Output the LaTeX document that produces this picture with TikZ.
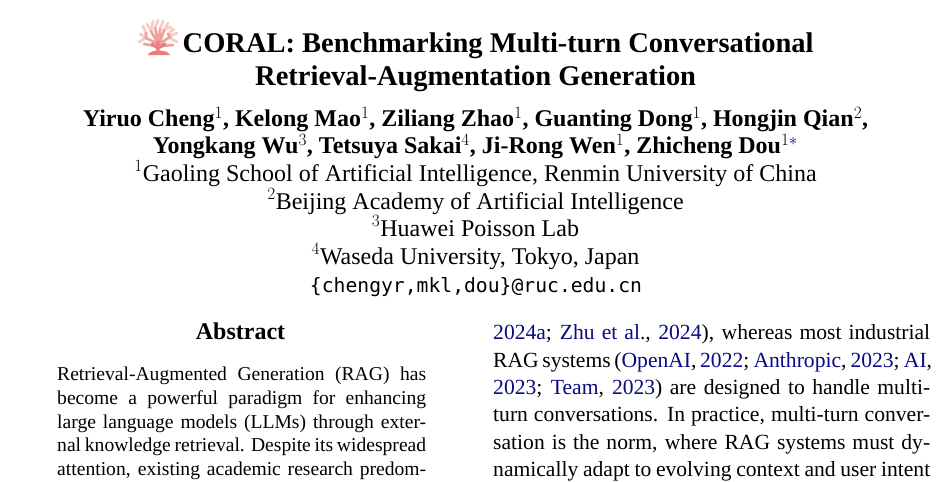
\documentclass[tikz,border=0pt]{standalone}
\usepackage{fontspec}
\setmainfont{Liberation Serif}
\newfontfamily\monof{DejaVu Sans Mono}
\definecolor{linkblue}{RGB}{10,10,130}
\definecolor{coralpale}{RGB}{247,205,200}
\definecolor{coralpink}{RGB}{240,160,155}
\definecolor{coraldark}{RGB}{236,125,125}
\newcommand{\lb}[1]{\textcolor{linkblue}{#1}}
\newcommand{\jl}[2]{\makebox[#1pt][s]{#2}}
\newcommand{\sps}[1]{\raisebox{-1.5pt}{$^{#1}$}}
\tikzset{
 titlef/.style={inner sep=0pt,font=\fontsize{28.5}{32}\selectfont\bfseries,anchor=base west},
 authf/.style={inner sep=0pt,font=\fontsize{24}{28}\selectfont\bfseries,anchor=base},
 afff/.style={inner sep=0pt,font=\fontsize{24}{28}\selectfont,anchor=base},
 mailf/.style={inner sep=0pt,font=\fontsize{19.7}{24}\selectfont\monof,anchor=base},
 headf/.style={inner sep=0pt,font=\fontsize{24}{28}\selectfont\bfseries,anchor=base},
 bodyf/.style={inner sep=0pt,font=\fontsize{21.6}{26}\selectfont,anchor=base west},
 absf/.style={inner sep=0pt,font=\fontsize{19.6}{24}\selectfont,anchor=base west},
 tipbranch/.style={draw=coralpale,line width=2.8pt,line cap=round,line join=round},
 midbranch/.style={draw=coralpink,line width=2.6pt,line cap=round,line join=round},
 trunk/.style={draw=coraldark,line width=3.4pt,line cap=round,line join=round}
}
\begin{document}
\begin{tikzpicture}[x=1pt,y=-1pt]
\useasboundingbox (0,0) rectangle (951,482);
\fill[white] (0,0) rectangle (951,482);
% coral
\draw[tipbranch] (146,38) -- (140,34) (146,38) -- (139,42) (146,33) -- (143,26)
  (151,31) -- (147,24) (151,31) -- (153,21) (155,28) -- (158,20)
  (160,29) -- (163,21) (164,30) -- (168,23) (164,30) -- (171,27)
  (170,36) -- (177,33) (170,38) -- (177,42) (168,34) -- (174,29);
\draw[midbranch] (158,44) -- (146,38) -- (146,33)
  (157,42) -- (151,31) (158,40) -- (155,28) (159,40) -- (160,29)
  (160,42) -- (164,30) (159,44) -- (170,37) -- (168,34)
  (155,46) -- (144,44) (162,46) -- (173,45);
\draw[trunk] (158,51) -- (158,42) (158,48) -- (152,44) (158,48) -- (165,44);
\fill[coraldark] (148,55) .. controls (149,49) and (168,49) .. (170,55) -- cycle;
\node[titlef] (t1) at (182.5,52) {CORAL: Benchmarking Multi-turn Conversational};
\node[titlef] (t2) at (255,85) {Retrieval-Augmentation Generation};
\node[authf] (a1) at (475.5,126) {Yiruo Cheng\sps{1}, Kelong Mao\sps{1}, Ziliang Zhao\sps{1}, Guanting Dong\sps{1}, Hongjin Qian\sps{2},};
\node[authf] (a2) at (475.5,153) {Yongkang Wu\sps{3}, Tetsuya Sakai\sps{4}, Ji-Rong Wen\sps{1}, Zhicheng Dou\sps{1\textcolor{linkblue}{*}}};
\node[afff] (f1) at (475.5,181) {$^{1}$Gaoling School of Artificial Intelligence, Renmin University of China};
\node[afff] (f2) at (475.5,209) {$^{2}$Beijing Academy of Artificial Intelligence};
\node[afff] (f3) at (475.5,236) {$^{3}$Huawei Poisson Lab};
\node[afff] (f4) at (475.5,264) {$^{4}$Waseda University, Tokyo, Japan};
\node[mailf] (m) at (476,292) {\{chengyr,mkl,dou\}@ruc.edu.cn};
\node[headf] (h) at (240.5,339) {Abstract};
\node[absf] (l1) at (57,380) {\jl{369}{Retrieval-Augmented Generation (RAG) has}};
\node[absf] (l2) at (57,404) {\jl{369}{become a powerful paradigm for enhancing}};
\node[absf] (l3) at (57,428) {\jl{369}{large language models (LLMs) through exter-}};
\node[absf] (l4) at (57,451) {\jl{369}{nal knowledge retrieval. Despite its widespread}};
\node[absf] (l5) at (57,475) {\jl{369}{attention, existing academic research predom-}};
\node[bodyf] (r1) at (493,339) {\jl{437}{\lb{2024a}; \lb{Zhu et al.}, \lb{2024}), whereas most industrial}};
\node[bodyf] (r2) at (493,367) {\jl{437}{RAG systems (\lb{OpenAI}, \lb{2022}; \lb{Anthropic}, \lb{2023}; \lb{AI},}};
\node[bodyf] (r3) at (493,394) {\jl{437}{\lb{2023}; \lb{Team}, \lb{2023}) are designed to handle multi-}};
\node[bodyf] (r4) at (493,421) {\jl{437}{turn conversations. In practice, multi-turn conver-}};
\node[bodyf] (r5) at (493,449) {\jl{437}{sation is the norm, where RAG systems must dy-}};
\node[bodyf] (r6) at (493,476) {\jl{437}{namically adapt to evolving context and user intent}};
\end{tikzpicture}
\end{document}
